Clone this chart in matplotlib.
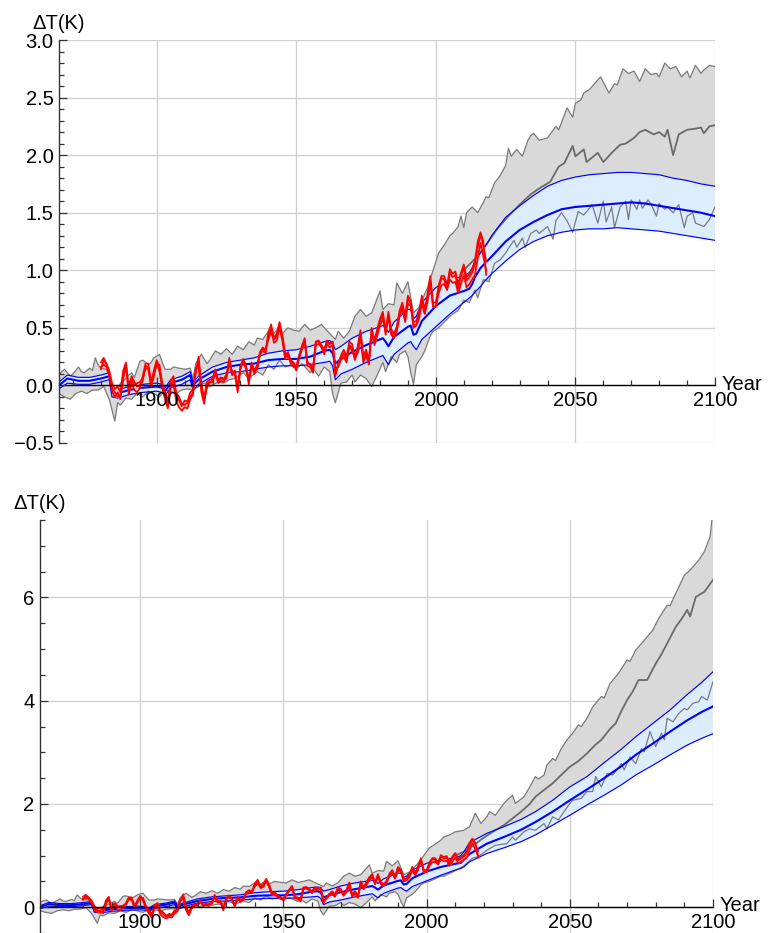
import numpy as np
import matplotlib
matplotlib.use("Agg")
import matplotlib.pyplot as plt
from matplotlib.ticker import MultipleLocator, FuncFormatter

plt.rcParams['font.family'] = ['Liberation Sans', 'DejaVu Sans']

# ---------------- observations (annual, 1880-2018) ----------------
OBS_YEARS = list(range(1880, 2019))
OBS_A = [0.14, 0.22, 0.19, 0.13, 0.02, -0.03, -0.01, -0.06, 0.13, 0.20,
         -0.05, 0.08, 0.03, -0.01, 0.00, 0.08, 0.19, 0.19, 0.03, 0.13,
         0.22, 0.15, 0.02, -0.07, -0.17, 0.04, 0.08, -0.09, -0.13, -0.18,
         -0.13, -0.14, -0.06, -0.04, 0.15, 0.16, -0.06, -0.16, 0.01, 0.03,
         0.03, 0.11, 0.02, 0.04, 0.03, 0.08, 0.20, 0.09, 0.10, -0.06,
         0.14, 0.21, 0.14, 0.01, 0.18, 0.10, 0.15, 0.27, 0.30, 0.28,
         0.43, 0.49, 0.37, 0.39, 0.50, 0.39, 0.23, 0.27, 0.19, 0.19,
         0.13, 0.23, 0.31, 0.38, 0.17, 0.16, 0.11, 0.35, 0.36, 0.33,
         0.27, 0.36, 0.33, 0.35, 0.10, 0.19, 0.24, 0.28, 0.22, 0.35,
         0.33, 0.22, 0.31, 0.46, 0.23, 0.29, 0.20, 0.48, 0.37, 0.46,
         0.56, 0.62, 0.44, 0.61, 0.46, 0.42, 0.48, 0.62, 0.69, 0.57,
         0.75, 0.71, 0.52, 0.53, 0.61, 0.75, 0.63, 0.76, 0.91, 0.68,
         0.69, 0.84, 0.93, 0.92, 0.83, 0.98, 0.94, 0.96, 0.84, 0.95,
         1.02, 0.91, 0.94, 0.98, 1.05, 1.20, 1.31, 1.22, 1.08]
OBS_B = [0.20, 0.24, 0.18, 0.10, -0.05, -0.10, -0.06, -0.12, 0.05, 0.18,
         -0.08, 0.02, -0.04, -0.06, -0.02, 0.04, 0.17, 0.16, -0.01, 0.08,
         0.20, 0.12, -0.03, -0.12, -0.20, -0.02, 0.02, -0.14, -0.19, -0.22,
         -0.19, -0.20, -0.12, -0.08, 0.12, 0.25, 0.02, -0.12, -0.02, 0.02,
         0.05, 0.10, 0.04, 0.06, 0.05, 0.10, 0.22, 0.12, 0.12, -0.02,
         0.16, 0.20, 0.16, 0.05, 0.16, 0.12, 0.14, 0.28, 0.32, 0.30,
         0.46, 0.53, 0.41, 0.45, 0.55, 0.44, 0.28, 0.24, 0.22, 0.20,
         0.16, 0.26, 0.33, 0.40, 0.20, 0.18, 0.15, 0.38, 0.39, 0.35,
         0.31, 0.38, 0.36, 0.38, 0.14, 0.16, 0.22, 0.25, 0.20, 0.34,
         0.30, 0.24, 0.28, 0.42, 0.20, 0.26, 0.18, 0.45, 0.35, 0.43,
         0.52, 0.58, 0.47, 0.60, 0.44, 0.41, 0.47, 0.60, 0.66, 0.55,
         0.71, 0.69, 0.50, 0.52, 0.58, 0.71, 0.62, 0.72, 0.90, 0.69,
         0.68, 0.80, 0.87, 0.88, 0.83, 0.92, 0.89, 0.90, 0.80, 0.88,
         0.96, 0.85, 0.88, 0.92, 0.96, 1.10, 1.24, 1.12, 1.00]
OBS_C = [0.16, 0.18, 0.16, 0.08, -0.02, -0.06, -0.10, -0.08, 0.08, 0.16,
         -0.03, 0.05, 0.00, 0.02, 0.03, 0.06, 0.15, 0.14, 0.00, 0.10,
         0.18, 0.18, 0.00, -0.05, -0.13, 0.00, 0.05, -0.06, -0.10, -0.16,
         -0.17, -0.15, -0.10, -0.06, 0.12, 0.20, -0.02, -0.10, 0.03, 0.05,
         0.06, 0.14, 0.05, 0.07, 0.06, 0.06, 0.24, 0.10, 0.13, -0.03,
         0.17, 0.23, 0.17, 0.04, 0.20, 0.13, 0.18, 0.29, 0.33, 0.31,
         0.40, 0.46, 0.40, 0.42, 0.52, 0.42, 0.26, 0.29, 0.22, 0.16,
         0.16, 0.25, 0.34, 0.41, 0.19, 0.19, 0.14, 0.38, 0.38, 0.35,
         0.30, 0.39, 0.36, 0.38, 0.08, 0.18, 0.26, 0.31, 0.25, 0.38,
         0.36, 0.24, 0.34, 0.48, 0.25, 0.31, 0.22, 0.50, 0.39, 0.49,
         0.58, 0.64, 0.47, 0.64, 0.49, 0.45, 0.51, 0.65, 0.72, 0.60,
         0.78, 0.73, 0.55, 0.56, 0.64, 0.78, 0.66, 0.79, 0.95, 0.72,
         0.72, 0.87, 0.95, 0.95, 0.86, 1.01, 0.97, 0.99, 0.88, 0.98,
         1.05, 0.94, 0.97, 1.01, 1.08, 1.25, 1.33, 1.25, 0.96]

# ---------------- model ensemble envelope, historical part ----------------
GRAY_HI_HIST_YR = [1865, 1866, 1867, 1869, 1870, 1872, 1873, 1874, 1876, 1877,
                   1878, 1879, 1880, 1882, 1883, 1884, 1886, 1887, 1889, 1890,
                   1891, 1892, 1894, 1895, 1897, 1898, 1899, 1901, 1902, 1903,
                   1905, 1906, 1908, 1910, 1912, 1913, 1914, 1916, 1918, 1919,
                   1921, 1923, 1925, 1927, 1929, 1931, 1933, 1935, 1936, 1938,
                   1940, 1942, 1944, 1945, 1947, 1949, 1951, 1953, 1955, 1957,
                   1959, 1962, 1964, 1965, 1967, 1969, 1971, 1973, 1975, 1977,
                   1980, 1981, 1983, 1985, 1986, 1988, 1990, 1992, 1994, 1997,
                   1999, 2001, 2003, 2005]
GRAY_HI_HIST = [0.09, 0.12, 0.14, 0.08, 0.10, 0.16, 0.12, 0.11, 0.15, 0.13,
                0.24, 0.18, 0.15, 0.14, 0.08, 0.00, -0.04, 0.02, 0.06, 0.09,
                0.11, 0.07, 0.21, 0.22, 0.18, 0.20, 0.24, 0.27, 0.20, 0.14,
                0.14, 0.16, 0.15, 0.14, 0.15, 0.06, 0.19, 0.27, 0.19, 0.22,
                0.30, 0.27, 0.32, 0.27, 0.34, 0.31, 0.38, 0.35, 0.41, 0.40,
                0.47, 0.45, 0.51, 0.45, 0.50, 0.48, 0.47, 0.53, 0.48, 0.50,
                0.53, 0.45, 0.40, 0.47, 0.41, 0.47, 0.60, 0.66, 0.60, 0.63,
                0.82, 0.66, 0.71, 0.70, 0.89, 0.80, 0.90, 0.63, 0.68, 0.85,
                1.00, 1.15, 1.22, 1.30]
GRAY_LO_HIST_YR = [1865, 1867, 1869, 1871, 1873, 1875, 1877, 1879, 1881, 1883,
                   1885, 1886, 1887, 1889, 1891, 1893, 1895, 1897, 1899, 1901,
                   1903, 1905, 1907, 1909, 1911, 1913, 1915, 1917, 1919, 1922,
                   1924, 1926, 1928, 1931, 1933, 1936, 1938, 1940, 1942, 1944,
                   1946, 1948, 1950, 1952, 1955, 1956, 1958, 1960, 1962, 1963,
                   1964, 1966, 1968, 1970, 1971, 1973, 1975, 1977, 1979, 1981,
                   1982, 1984, 1986, 1987, 1989, 1990, 1991, 1992, 1993, 1995,
                   1996, 1998, 1999, 2001, 2003, 2005]
GRAY_LO_HIST = [-0.07, -0.10, -0.12, -0.07, -0.05, -0.07, -0.04, -0.04, -0.01, -0.12,
                -0.31, -0.15, -0.17, -0.11, -0.12, -0.07, -0.10, -0.05, -0.07, -0.10,
                -0.04, -0.05, -0.07, -0.04, -0.03, -0.04, -0.01, 0.02, -0.01, 0.03,
                0.02, 0.05, 0.06, 0.11, 0.06, 0.12, 0.09, 0.18, 0.14, 0.22,
                0.16, 0.18, 0.14, 0.19, 0.11, 0.15, 0.08, 0.16, 0.12, -0.07,
                -0.15, 0.02, 0.03, 0.09, 0.03, 0.09, 0.06, -0.01, 0.09, 0.20,
                0.12, 0.25, 0.20, 0.27, 0.30, 0.25, 0.11, 0.01, 0.18, 0.25,
                0.30, 0.43, 0.47, 0.50, 0.55, 0.60]

# ---------------- emulator band, historical part ----------------
BLUE_HIST_YR = [1865, 1868, 1872, 1876, 1880, 1883, 1884, 1886, 1890, 1895,
                1900, 1902, 1903, 1905, 1909, 1912, 1913, 1915, 1920, 1925,
                1930, 1935, 1940, 1945, 1950, 1955, 1960, 1962, 1963, 1964,
                1966, 1970, 1975, 1980, 1981, 1982, 1983, 1985, 1990, 1991,
                1992, 1993, 1995, 2000, 2005]
BLUE_HI_HIST = [0.03, 0.09, 0.07, 0.07, 0.09, 0.11, -0.03, -0.04, -0.01, 0.01,
                0.02, 0.01, -0.02, 0.05, 0.08, 0.12, 0.03, 0.08, 0.16, 0.20,
                0.22, 0.24, 0.28, 0.30, 0.31, 0.34, 0.38, 0.39, 0.37, 0.31,
                0.34, 0.41, 0.47, 0.51, 0.52, 0.50, 0.46, 0.55, 0.66, 0.66,
                0.58, 0.60, 0.72, 0.85, 0.92]
BLUE_MID_HIST = [0.00, 0.06, 0.04, 0.04, 0.06, 0.08, -0.06, -0.07, -0.04, -0.02,
                 -0.01, -0.02, -0.05, 0.02, 0.05, 0.09, 0.00, 0.05, 0.12, 0.16,
                 0.18, 0.19, 0.22, 0.23, 0.23, 0.25, 0.30, 0.31, 0.28, 0.19,
                 0.23, 0.29, 0.35, 0.40, 0.41, 0.38, 0.34, 0.42, 0.51, 0.52,
                 0.44, 0.45, 0.56, 0.69, 0.78]
BLUE_LO_HIST = [-0.03, 0.02, 0.01, 0.01, 0.03, 0.05, -0.10, -0.11, -0.08, -0.06,
                -0.05, -0.06, -0.09, -0.02, 0.01, 0.05, -0.04, 0.01, 0.08, 0.11,
                0.12, 0.14, 0.16, 0.17, 0.17, 0.18, 0.20, 0.21, 0.17, 0.05,
                0.10, 0.14, 0.20, 0.25, 0.26, 0.22, 0.18, 0.27, 0.37, 0.38,
                0.34, 0.31, 0.40, 0.51, 0.62]

# ---------------- low-emission scenario (upper panel) ----------------
GRAY_HI_26_YR = [2006, 2008, 2009, 2010, 2011, 2013, 2015, 2017, 2018, 2019,
                 2021, 2023, 2025, 2026, 2027, 2029, 2031, 2033, 2034, 2035,
                 2037, 2040, 2043, 2044, 2047, 2049, 2050, 2052, 2053, 2055,
                 2059, 2062, 2064, 2065, 2067, 2069, 2071, 2073, 2075, 2077,
                 2079, 2080, 2082, 2084, 2086, 2088, 2090, 2091, 2093, 2095,
                 2096, 2098, 2100]
GRAY_HI_26 = [1.32, 1.38, 1.47, 1.37, 1.50, 1.55, 1.50, 1.59, 1.64, 1.63,
              1.76, 1.82, 1.91, 2.06, 1.99, 2.05, 1.99, 2.13, 2.17, 2.19,
              2.13, 2.15, 2.25, 2.22, 2.41, 2.33, 2.45, 2.48, 2.54, 2.57,
              2.68, 2.54, 2.62, 2.61, 2.75, 2.71, 2.73, 2.64, 2.75, 2.70,
              2.71, 2.68, 2.80, 2.75, 2.77, 2.68, 2.73, 2.67, 2.78, 2.71,
              2.74, 2.78, 2.77]
GRAY_LO_26_YR = [2006, 2008, 2010, 2012, 2014, 2015, 2017, 2019, 2021, 2023,
                 2025, 2026, 2028, 2029, 2031, 2032, 2034, 2036, 2037, 2040,
                 2042, 2043, 2045, 2047, 2049, 2051, 2053, 2056, 2058, 2060,
                 2061, 2063, 2064, 2066, 2068, 2069, 2070, 2072, 2073, 2074,
                 2076, 2077, 2079, 2080, 2082, 2083, 2085, 2087, 2089, 2090,
                 2092, 2093, 2096, 2098, 2100]
GRAY_LO_26 = [0.62, 0.65, 0.74, 0.72, 0.83, 0.76, 0.92, 0.90, 1.06, 1.09,
              1.15, 1.19, 1.26, 1.20, 1.28, 1.20, 1.32, 1.35, 1.32, 1.38,
              1.27, 1.43, 1.50, 1.43, 1.33, 1.51, 1.48, 1.57, 1.41, 1.60,
              1.42, 1.55, 1.37, 1.55, 1.60, 1.44, 1.61, 1.53, 1.61, 1.54,
              1.61, 1.58, 1.47, 1.58, 1.53, 1.55, 1.50, 1.57, 1.37, 1.47,
              1.50, 1.41, 1.38, 1.44, 1.55]
MID_26_YR = [2010, 2014, 2018, 2022, 2026, 2030, 2034, 2037, 2041, 2044,
             2046, 2049, 2050, 2053, 2054, 2058, 2060, 2063, 2066, 2068,
             2071, 2073, 2075, 2078, 2080, 2082, 2083, 2085, 2087, 2090,
             2093, 2095, 2096, 2098, 2100]
MID_26 = [1.00, 1.10, 1.22, 1.36, 1.47, 1.57, 1.66, 1.71, 1.77, 1.90,
          1.93, 2.08, 1.99, 2.05, 1.94, 2.02, 1.94, 2.02, 2.09, 2.10,
          2.15, 2.20, 2.22, 2.18, 2.20, 2.16, 2.22, 2.00, 2.18, 2.22,
          2.23, 2.24, 2.19, 2.25, 2.26]
BLUE_26_YR = [2010, 2012, 2013, 2014, 2016, 2018, 2020, 2025, 2030, 2035,
              2040, 2045, 2050, 2055, 2060, 2065, 2070, 2075, 2080, 2085,
              2090, 2095, 2100]
BLUE_HI_26 = [0.95, 0.98, 1.02, 1.08, 1.15, 1.22, 1.30, 1.46, 1.56, 1.65,
              1.73, 1.78, 1.81, 1.83, 1.84, 1.85, 1.85, 1.84, 1.83, 1.80,
              1.78, 1.75, 1.73]
BLUE_MID_26 = [0.82, 0.84, 0.88, 0.94, 1.02, 1.07, 1.12, 1.25, 1.35, 1.42,
               1.48, 1.53, 1.55, 1.56, 1.57, 1.58, 1.59, 1.58, 1.56, 1.54,
               1.52, 1.50, 1.47]
BLUE_LO_26 = [0.72, 0.76, 0.78, 0.81, 0.86, 0.92, 0.97, 1.08, 1.18, 1.25,
              1.30, 1.33, 1.35, 1.36, 1.36, 1.37, 1.36, 1.35, 1.34, 1.32,
              1.30, 1.28, 1.26]

# ---------------- high-emission scenario (lower panel) ----------------
GRAY_HI_85_YR = [2006, 2008, 2010, 2013, 2015, 2017, 2019, 2021, 2022, 2024,
                 2027, 2028, 2030, 2031, 2034, 2036, 2038, 2039, 2041, 2042,
                 2044, 2045, 2047, 2049, 2051, 2053, 2054, 2056, 2058, 2061,
                 2062, 2064, 2067, 2070, 2071, 2073, 2076, 2079, 2081, 2084,
                 2085, 2087, 2090, 2092, 2095, 2097, 2099, 2100]
GRAY_HI_85 = [1.36, 1.40, 1.46, 1.49, 1.56, 1.82, 1.62, 1.75, 1.85, 1.78,
              2.01, 2.07, 2.17, 2.01, 2.14, 2.33, 2.53, 2.48, 2.56, 2.75,
              2.88, 2.84, 3.07, 3.24, 3.37, 3.53, 3.50, 3.66, 3.88, 4.08,
              4.05, 4.33, 4.53, 4.79, 4.76, 4.98, 5.17, 5.37, 5.59, 5.85,
              5.84, 6.08, 6.43, 6.53, 6.72, 6.89, 7.18, 7.70]
GRAY_LO_85_YR = [2006, 2009, 2013, 2016, 2018, 2021, 2024, 2028, 2030, 2031,
                 2034, 2036, 2038, 2041, 2042, 2044, 2046, 2048, 2050, 2051,
                 2054, 2056, 2058, 2059, 2061, 2063, 2065, 2068, 2069, 2071,
                 2073, 2075, 2076, 2078, 2080, 2082, 2083, 2084, 2086, 2088,
                 2090, 2091, 2093, 2095, 2096, 2098, 2100]
GRAY_LO_85 = [0.60, 0.68, 0.80, 0.95, 0.98, 1.10, 1.20, 1.23, 1.36, 1.30,
              1.46, 1.52, 1.49, 1.62, 1.52, 1.75, 1.69, 1.85, 2.01, 2.07,
              2.11, 2.24, 2.24, 2.53, 2.33, 2.59, 2.56, 2.78, 2.66, 2.91,
              2.78, 3.07, 3.01, 3.40, 3.11, 3.37, 3.24, 3.66, 3.59, 3.75,
              3.85, 3.82, 3.95, 3.98, 4.08, 4.01, 4.37]
MID_85_YR = [2010, 2014, 2020, 2024, 2027, 2030, 2033, 2036, 2038, 2041,
             2044, 2047, 2050, 2053, 2056, 2059, 2061, 2064, 2066, 2068,
             2070, 2072, 2074, 2077, 2080, 2082, 2084, 2087, 2089, 2091,
             2092, 2094, 2097, 2100]
MID_85 = [1.00, 1.10, 1.35, 1.49, 1.59, 1.72, 1.85, 2.00, 2.14, 2.27,
          2.40, 2.56, 2.72, 2.83, 2.98, 3.15, 3.24, 3.45, 3.56, 3.80,
          4.01, 4.18, 4.40, 4.40, 4.72, 4.90, 5.11, 5.43, 5.58, 5.76,
          5.63, 6.01, 6.11, 6.34]
BLUE_85_YR = [2010, 2012, 2013, 2015, 2021, 2027, 2033, 2038, 2044, 2050,
              2056, 2062, 2068, 2073, 2079, 2085, 2091, 2096, 2100]
BLUE_HI_85 = [0.95, 1.00, 1.07, 1.25, 1.43, 1.56, 1.70, 1.85, 2.07, 2.33,
              2.53, 2.80, 3.06, 3.30, 3.56, 3.82, 4.12, 4.35, 4.56]
BLUE_MID_85 = [0.84, 0.86, 0.92, 1.03, 1.23, 1.36, 1.50, 1.65, 1.85, 2.07,
               2.28, 2.50, 2.73, 2.95, 3.17, 3.40, 3.62, 3.78, 3.89]
BLUE_LO_85 = [0.72, 0.75, 0.78, 0.88, 1.04, 1.15, 1.27, 1.40, 1.59, 1.78,
              1.98, 2.17, 2.37, 2.56, 2.75, 2.95, 3.14, 3.27, 3.36]

X_MAJOR = [1900, 1950, 2000, 2050, 2100]

# ---------------- styles ----------------
GRAY_FILL = '#d9d9d9'
GRAY_EDGE = '#7a7a7a'
GRAY_MID = '#6a6a6a'
BLUE_FILL = '#dcedff'
BLUE = '#0000ff'
PINK = '#ffcccc'
RED = '#ff0000'
GRID = '#cfcfcf'
AXIS = '#333333'


def joined(yr_a, v_a, yr_b, v_b):
    return np.array(yr_a + yr_b, float), np.array(v_a + v_b, float)


def band(ax, xu, yu, xl, yl, color, z):
    ax.fill(np.r_[xu, xl[::-1]], np.r_[yu, yl[::-1]], color=color, lw=0, zorder=z)


def minus(v, pos, fmt):
    return (fmt % v).replace('-', '\u2212')


def draw_panel(ax, sc, ylim, yticks, yminor, fmt):
    gxu, gyu = joined(GRAY_HI_HIST_YR, GRAY_HI_HIST, sc['ghy'], sc['gh'])
    gxl, gyl = joined(GRAY_LO_HIST_YR, GRAY_LO_HIST, sc['gly'], sc['gl'])
    bxu, byu = joined(BLUE_HIST_YR, BLUE_HI_HIST, sc['by'], sc['bh'])
    bxm, bym = joined(BLUE_HIST_YR, BLUE_MID_HIST, sc['by'], sc['bm'])
    bxl, byl = joined(BLUE_HIST_YR, BLUE_LO_HIST, sc['by'], sc['bl'])

    band(ax, gxu, gyu, gxl, gyl, GRAY_FILL, 1)
    band(ax, bxu, byu, bxl, byl, BLUE_FILL, 2)
    ax.plot(gxu, gyu, color=GRAY_EDGE, lw=0.9, zorder=3)
    ax.plot(gxl, gyl, color=GRAY_EDGE, lw=0.9, zorder=3)
    ax.plot(sc['my'], sc['m'], color=GRAY_MID, lw=1.3, zorder=3)
    ax.plot(bxu, byu, color=BLUE, lw=0.85, zorder=4)
    ax.plot(bxl, byl, color=BLUE, lw=0.85, zorder=4)
    ax.plot(bxm, bym, color=BLUE, lw=1.5, zorder=4)

    obs = np.array([OBS_A, OBS_B, OBS_C])
    ax.fill_between(OBS_YEARS, obs.min(axis=0), obs.max(axis=0),
                    color=PINK, lw=0, zorder=5)
    for row in obs:
        ax.plot(OBS_YEARS, row, color=RED, lw=1.25, zorder=6)

    ax.set_xlim(1865, 2100)
    ax.set_ylim(*ylim)

    for x in X_MAJOR:
        ax.axvline(x, color=GRID, lw=0.9, zorder=0.5)
    for y in yticks:
        ax.axhline(y, color=GRID, lw=0.9, zorder=0.5)

    ax.set_xticks(X_MAJOR)
    ax.xaxis.set_minor_locator(MultipleLocator(10))
    ax.set_yticks(yticks)
    ax.yaxis.set_minor_locator(MultipleLocator(yminor))
    ax.yaxis.set_major_formatter(FuncFormatter(lambda v, p: minus(v, p, fmt)))

    for s in ('top', 'right'):
        ax.spines[s].set_visible(False)
    ax.spines['bottom'].set_position(('data', 0))
    ax.spines['bottom'].set_color('black')
    ax.spines['left'].set_color(AXIS)
    for s in ('bottom', 'left'):
        ax.spines[s].set_linewidth(1.0)
        ax.spines[s].set_zorder(9)
    ax.xaxis.set_zorder(10)
    ax.yaxis.set_zorder(10)

    ax.tick_params(which='both', direction='in', color=AXIS, width=0.9,
                   labelsize=14.5, pad=4)
    ax.tick_params(which='major', length=6)
    ax.tick_params(which='minor', length=3.5)

    ax.annotate('Year', xy=(1, 0), xycoords=('axes fraction', 'data'),
                xytext=(5, 1), textcoords='offset points',
                ha='left', va='center', fontsize=14.5)
    ax.annotate('\u0394T(K)', xy=(0, 1), xycoords='axes fraction',
                xytext=(0, 5), textcoords='offset points',
                ha='center', va='bottom', fontsize=14.5)


fig = plt.figure(figsize=(7.68, 9.33), dpi=100)
ax_top = fig.add_axes([59 / 768, 1 - 443 / 933, 656 / 768, 403 / 933])
ax_bot = fig.add_axes([40 / 768, 0.0, 673 / 768, 413 / 933])

low_case = dict(ghy=GRAY_HI_26_YR, gh=GRAY_HI_26, gly=GRAY_LO_26_YR, gl=GRAY_LO_26,
                my=MID_26_YR, m=MID_26, by=BLUE_26_YR, bh=BLUE_HI_26,
                bm=BLUE_MID_26, bl=BLUE_LO_26)
high_case = dict(ghy=GRAY_HI_85_YR, gh=GRAY_HI_85, gly=GRAY_LO_85_YR, gl=GRAY_LO_85,
                 my=MID_85_YR, m=MID_85, by=BLUE_85_YR, bh=BLUE_HI_85,
                 bm=BLUE_MID_85, bl=BLUE_LO_85)

draw_panel(ax_top, low_case, (-0.5, 3.0),
           [-0.5, 0.0, 0.5, 1.0, 1.5, 2.0, 2.5, 3.0], 0.1, '%.1f')
draw_panel(ax_bot, high_case, (-0.5, 7.5), [0, 2, 4, 6], 0.5, '%d')

fig.savefig('out.png', dpi=100)
